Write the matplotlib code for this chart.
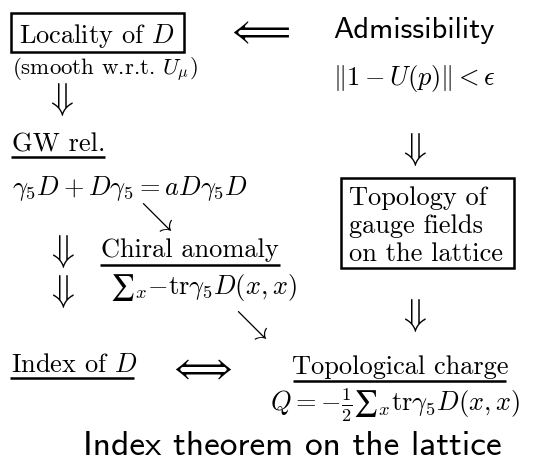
import matplotlib
matplotlib.use("Agg")
import matplotlib.pyplot as plt
from matplotlib.patches import Rectangle

plt.rcParams['mathtext.fontset'] = 'cm'
plt.rcParams['axes.formatter.use_mathtext'] = True

# Diagram content
left_box = "Locality of $D$"
left_note = "(smooth w.r.t. $U_\\mu$)"
gw_title = "GW rel."
gw_eq = r"$\gamma_5 D + D\gamma_5 = aD\gamma_5 D$"
anomaly_title = "Chiral anomaly"
anomaly_eq = r"$∑_x {-}\mathrm{tr}\gamma_5 D(x,x)$"
index_title = "Index of $D$"
adm_title = "Admissibility"
adm_eq = r"$\Vert 1 - U(p)\Vert < \epsilon$"
topo_box = ["Topology of", "gauge fields", "on the lattice"]
charge_title = "Topological charge"
charge_eq = r"$Q = -\frac{1}{2}∑_x \mathrm{tr}\gamma_5 D(x,x)$"
caption = "Index theorem on the lattice"

SERIF = 'cmr10'
SANS = 'cmss10'
FS = 19
FS_SANS = 22
FS_ARR = 27

fig = plt.figure(figsize=(5.42, 4.66), dpi=100)
ax = fig.add_axes([0, 0, 1, 1])
ax.set_xlim(0, 542)
ax.set_ylim(466, 0)
ax.axis('off')

def txt(x, y, s, fam=SERIF, size=FS, ha='left', va='baseline'):
    return ax.text(x, y, s, family=fam, fontsize=size, ha=ha, va=va)

def hline(x0, x1, y):
    ax.plot([x0, x1], [y, y], color='black', lw=1.8, solid_capstyle='butt')

def down(x, y):
    txt(x, y, r"$\Downarrow$", size=FS_ARR, ha='center', va='center')

def diag(x, y):
    txt(x, y, r"$\searrow$", size=23, ha='center', va='center')

# left column
txt(19, 43, left_box)
ax.add_patch(Rectangle((11, 13), 173, 39, fill=False, lw=1.8, ec='black'))
txt(12, 74, left_note, size=16.5)
down(59, 99)
txt(12, 152, gw_title)
hline(11, 105, 157)
txt(12, 195, gw_eq)
diag(154, 218)
down(60, 251)
down(60, 292)
txt(190, 257, anomaly_title, ha='center')
hline(100, 280, 265)
txt(110, 294, anomaly_eq)
diag(249, 326)
txt(11, 372, index_title)
hline(10, 134, 378)
txt(200, 369, r"$\Longleftrightarrow$", size=FS_ARR, ha='center', va='center')

# right column
txt(258, 33, r"$\Longleftarrow$", size=FS_ARR, ha='center', va='center')
txt(333, 38, adm_title, fam=SANS, size=FS_SANS)
txt(333, 85, adm_eq)
down(412, 149)
ax.add_patch(Rectangle((341, 178), 173, 90, fill=False, lw=1.8, ec='black'))
for i, line in enumerate(topo_box):
    txt(349, 205 + i * 28, line)
down(412, 315)
txt(400, 374, charge_title, ha='center')
hline(293, 506, 381)
txt(520, 411, charge_eq, ha='right')

txt(292, 455, caption, fam=SANS, size=25.5, ha='center')

fig.savefig("out.png", dpi=100)
